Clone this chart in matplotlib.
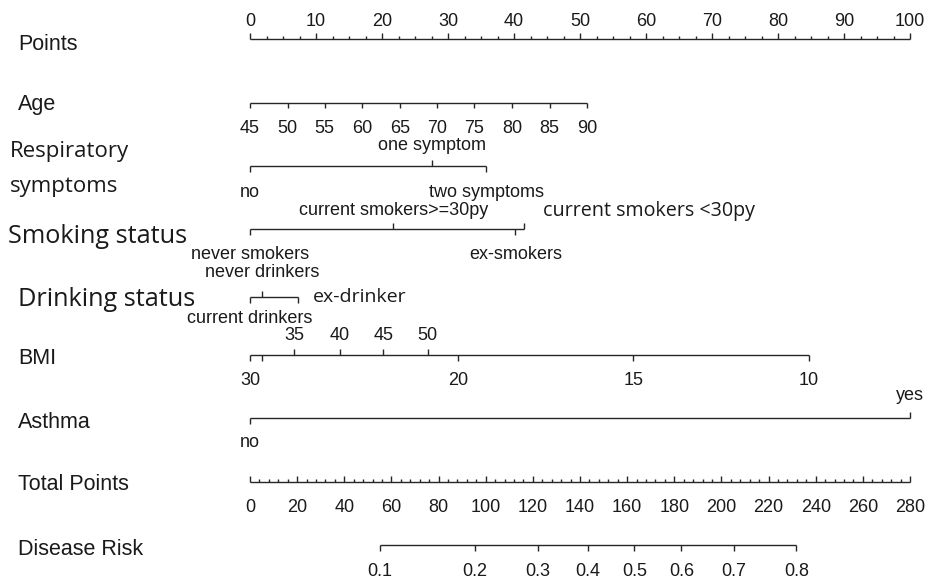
import matplotlib
matplotlib.use("Agg")
import matplotlib.pyplot as plt
import numpy as np
from matplotlib.transforms import blended_transform_factory

plt.rcParams["font.family"] = ["Liberation Sans", "DejaVu Sans"]

# ---- values (x positions in "Points", 0-100) ----
points_ticks = [0, 10, 20, 30, 40, 50, 60, 70, 80, 90, 100]

age_values = [45, 50, 55, 60, 65, 70, 75, 80, 85, 90]
age_points = [0, 5.7, 11.3, 17.0, 22.7, 28.4, 34.0, 39.7, 45.4, 51.1]

resp_levels = ["no", "one symptom", "two symptoms"]
resp_points = [0, 27.5, 35.8]

smoke_levels = ["never smokers", "current smokers>=30py", "ex-smokers",
                "current smokers <30py"]
smoke_points = [0, 21.7, 40.2, 41.5]

drink_levels = ["current drinkers", "never drinkers", "ex-drinker"]
drink_points = [0, 1.8, 7.3]

bmi_upper_labels = ["35", "40", "45", "50"]
bmi_upper_points = [6.7, 13.6, 20.2, 26.9]
bmi_lower_labels = ["30", "", "20", "15", "10"]
bmi_lower_points = [0, 1.8, 31.5, 58.1, 84.7]

asthma_levels = ["no", "yes"]
asthma_points = [0, 100]

total_ticks = [0, 20, 40, 60, 80, 100, 120, 140, 160, 180, 200, 220, 240, 260, 280]
total_max = 280

risk_values = ["0.1", "0.2", "0.3", "0.4", "0.5", "0.6", "0.7", "0.8"]
risk_total_points = [55.2, 95.5, 122.1, 143.4, 163.1, 183.0, 205.2, 231.8]

# ---- layout ----
W, H = 930, 580
X0, PX_PER_PT = 250, 6.6
LINE = "#262626"
TXT = "#1a1a1a"
TICK = 6
FS = 13
EDIT = ["Open Sans", "DejaVu Sans"]

fig = plt.figure(figsize=(W / 100, H / 100), dpi=100)
ax = fig.add_axes([0, 0, 1, 1])
ax.set_xlim(-X0 / PX_PER_PT, (W - X0) / PX_PER_PT)
ax.set_ylim(H, 0)
ax.axis("off")
lab = blended_transform_factory(fig.dpi_scale_trans, ax.transData)


def hline(x0, x1, y):
    ax.plot([x0, x1], [y, y], color=LINE, lw=1.0, solid_capstyle="butt")


def tick(x, y, up=True, length=TICK):
    ax.plot([x, x], [y, y - length if up else y + length], color=LINE, lw=1.0,
            solid_capstyle="butt")


def text(x, y, s, ha="center", fs=FS, **kw):
    ax.text(x, y, s, ha=ha, va="baseline", fontsize=fs, color=TXT, **kw)


def left_label(s, y, xpx=18, fs=15.5, **kw):
    ax.text(xpx / 100, y, s, transform=lab, ha="left", va="baseline",
            fontsize=fs, color=TXT, **kw)


# Points
y = 39
hline(0, 100, y)
for v in np.arange(0, 100.01, 2.5):
    tick(v, y, up=True, length=6 if v % 10 == 0 else 3.5)
for v in points_ticks:
    text(v, 26, str(v))
left_label("Points", 50)

# Age
y = 103
hline(age_points[0], age_points[-1], y)
for v, p in zip(age_values, age_points):
    tick(p, y, up=False, length=5)
    text(p, 133, str(v))
left_label("Age", 110)

# Respiratory symptoms
y = 166
hline(min(resp_points), max(resp_points), y)
resp_up = [False, True, False]
for name, p, up in zip(resp_levels, resp_points, resp_up):
    tick(p, y, up=up)
    text(p, 150 if up else 197, name)
left_label("Respiratory", 157, xpx=10, fs=16, family=EDIT)
left_label("symptoms", 192, xpx=10, fs=16, family=EDIT)

# Smoking status
y = 229
hline(min(smoke_points), max(smoke_points), y)
smoke_up = [False, True, False, True]
for name, p, up in zip(smoke_levels, smoke_points, smoke_up):
    tick(p, y, up=up)
    if name == "current smokers <30py":
        ax.text((543 - X0) / PX_PER_PT, 216, name, ha="left", va="baseline",
                fontsize=14.2, color=TXT, family=EDIT)
    else:
        text(p, 215 if up else 259, name)
left_label("Smoking status", 243, xpx=8, fs=18.2, family=EDIT)

# Drinking status
y = 297
hline(min(drink_points), max(drink_points), y)
drink_up = [False, True, False]
for name, p, up in zip(drink_levels, drink_points, drink_up):
    tick(p, y, up=up)
    if name == "ex-drinker":
        ax.text((313 - X0) / PX_PER_PT, 302, name, ha="left", va="baseline",
                fontsize=14, color=TXT, family=EDIT)
    else:
        text(p, 277 if up else 323, name)
left_label("Drinking status", 306, xpx=18, fs=18.2, family=EDIT)

# BMI
y = 355
hline(min(bmi_lower_points), max(bmi_lower_points), y)
for s, p in zip(bmi_upper_labels, bmi_upper_points):
    tick(p, y, up=True)
    text(p, 340, s)
for s, p in zip(bmi_lower_labels, bmi_lower_points):
    tick(p, y, up=False)
    if s:
        text(p, 385, s)
left_label("BMI", 364)

# Asthma
y = 418
hline(min(asthma_points), max(asthma_points), y)
for name, p, up in zip(asthma_levels, asthma_points, [False, True]):
    tick(p, y, up=up)
    text(p, 400 if up else 447, name)
left_label("Asthma", 428)

# Total Points
y = 482
scale = 100 / total_max
hline(0, total_max * scale, y)
for v in range(0, total_max + 1, 4):
    tick(v * scale, y, up=True, length=6 if v % 20 == 0 else 3.5)
for v in total_ticks:
    text(v * scale, 512, str(v))
left_label("Total Points", 490)

# Disease Risk
y = 545
hline(risk_total_points[0] * scale, risk_total_points[-1] * scale, y)
for s, tp in zip(risk_values, risk_total_points):
    tick(tp * scale, y, up=False)
    text(tp * scale, 576, s)
left_label("Disease Risk", 555)

fig.savefig("out.png", dpi=100, facecolor="white")
